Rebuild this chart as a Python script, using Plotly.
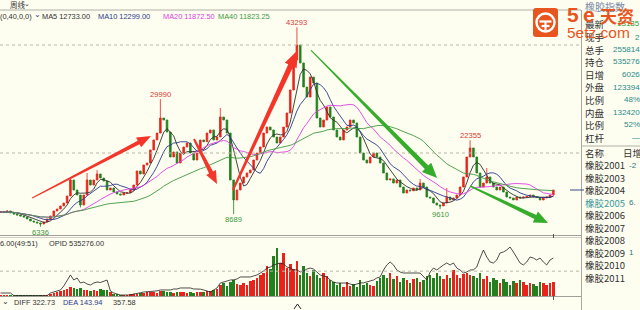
import math
import pandas as pd
import plotly.graph_objects as go

W, H = 640, 310

# ---------------- data ----------------
closes = [
    9070, 9070, 9260, 8890, 8700, 8520, 8330, 8150, 7780, 7410,
    7220, 7040, 6850, 7220, 7780, 8330, 9260, 9630, 10190, 10740,
    12040, 15000, 13150, 12220, 10370, 12220, 15000, 14070, 15000, 16110,
    15370, 14810, 13150, 13520, 12780, 12410, 12220, 12590, 12650, 13150,
    14070, 16670, 16110, 17780, 18150, 20560, 22410, 23700, 26480, 26110,
    23890, 19260, 20190, 18150, 20000, 21110, 21850, 20000, 18700, 20000,
    22410, 22100, 23700, 24260, 22410, 22960, 26670, 26110, 23700, 15000,
    11300, 13150, 14440, 15560, 16300, 16850, 18700, 20000, 21110, 23700,
    24810, 24260, 22960, 21850, 22960, 24810, 27410, 31670, 37220, 40000,
    36670, 32220, 30370, 34070, 32960, 26480, 24810, 26110, 28520, 26670,
    24260, 22960, 22410, 24260, 24810, 26110, 25560, 22960, 20000, 18700,
    18150, 19260, 20000, 19260, 18150, 16300, 15000, 15200, 14440, 15000,
    13700, 12590, 13150, 13000, 13520, 13150, 14440, 13700, 11850, 11670,
    10740, 10370, 10190, 10740, 11850, 11300, 11670, 12220, 13700, 15560,
    19260, 20930, 19260, 16300, 13700, 14440, 15560, 14440, 13700, 13150,
    13700, 12780, 11850, 11670, 11300, 11850, 11670, 11850, 11950, 12220,
    11850, 11750, 11300, 11670, 11850, 12220, 13150]

wick_high_idx = [21, 26, 29, 48, 66, 89, 126, 134, 141, 146]
wick_high_val = [15370, 16300, 16850, 29990, 28330, 43293, 15190, 13520, 22355, 17220]
wick_low_idx = [12, 24, 70, 132]
wick_low_val = [6336, 9900, 8689, 9610]

volume_k = [
    8, 10, 6, 9, 7, 8, 6, 10, 7, 9, 8, 6, 11, 9, 12,
    30, 45, 60, 70, 85, 100, 125, 115, 95, 110, 80, 90, 75, 85, 70, 95, 80, 90, 60,
    20, 15, 12, 10, 14, 18, 22,
    35, 40, 45, 50, 60, 55, 48, 70, 65, 52, 58, 45, 50, 60, 55, 48, 52, 45, 50, 62, 58, 70, 65, 85, 100,
    160, 180, 140, 200, 230, 170, 150, 190, 160, 210, 220, 250, 300, 330, 420, 380, 560, 680, 470, 600, 400,
    450, 380, 500, 300, 420, 330, 280, 360, 300, 260, 320, 280, 230, 200,
    150, 180, 120, 200, 140, 170, 130, 220, 160, 190, 150, 140, 210, 250,
    300, 260, 320, 240, 280, 200, 260, 220, 180, 240, 260, 200, 230, 280,
    300, 260, 320, 280, 240, 300, 260, 370, 290, 250, 310, 330, 300, 280, 260,
    320, 240, 280, 200, 260, 220, 180, 240, 200, 160, 210, 180, 230, 200, 150, 190, 170, 140, 200, 180, 150, 190, 200]

oi_k = [
    42, 42, 42, 42, 7, 7, 7, 7, 7, 7, 7, 7, 7, 7, 7,
    42, 56, 70, 85, 141, 225, 296, 225, 254, 183, 197, 169, 155, 183, 197,
    190, 211, 225, 70, 42, 28, 14, 14, 14, 14, 28, 42, 45, 56, 58, 60, 70, 72,
    85, 84, 86, 85, 99, 98, 113, 112, 114, 113, 99, 98, 97, 85, 70, 56, 85, 113,
    183, 197, 211, 225, 228, 239, 268, 267, 269, 268, 282, 296, 324, 352,
    394, 408, 437, 451, 465, 451, 408, 394, 366, 368, 338, 352, 380, 394, 380,
    338, 296, 282, 268, 225, 197, 183, 182, 184, 183, 169, 155, 169, 183, 185,
    197, 211, 225, 254, 268, 366, 437, 479, 437, 366, 338, 324, 326, 322, 325,
    324, 323, 268, 225, 338, 394, 366, 408, 437, 465, 437, 465, 394, 366, 324,
    338, 366, 368, 408, 535, 648, 549, 479, 465, 507, 606, 620, 648, 690, 620,
    535, 465, 437, 479, 549, 535, 507, 535, 479, 437, 507, 535.276]

peak_idx = [89, 48, 141]
peak_txt = ["43293", "29990", "22355"]
trough_idx = [12, 70, 132]
trough_txt = ["6336", "8689", "9610"]

# trend arrows: (index, price) of tail and tip
arrow_tails = [(9.5, 11670), (58.1, 22590), (69.8, 13150), (93.2, 39070), (141.0, 13890)]
arrow_tips = [(45.2, 23150), (65.0, 14260), (89.3, 39070), (131.1, 15370), (164.4, 7040)]
arrow_colors = ["#f4362a", "#f4362a", "#f4362a", "#35ad2a", "#35ad2a"]

ma_periods = [5, 10, 20, 40]
ma_colors = ["#303030", "#2b3a8c", "#e03ee0", "#3f9a3f"]

n = len(closes)
assert len(volume_k) == n and len(oi_k) == n, (len(volume_k), len(oi_k), n)
idx = list(range(n))
opens = [closes[0]] + closes[:-1]
highs = [max(o, c) for o, c in zip(opens, closes)]
lows = [min(o, c) for o, c in zip(opens, closes)]
for i, v in zip(wick_high_idx, wick_high_val):
    highs[i] = max(highs[i], v)
for i, v in zip(wick_low_idx, wick_low_val):
    lows[i] = min(lows[i], v)

UP = "#e8231c"
DN = "#23801e"
BG = "#fdfdf0"

# ---------------- geometry ----------------
MAIN_W = 580
MAIN_TOP, MAIN_BOT = 10, 235
VOL_TOP, VOL_BOT = 237, 296
X0, X1 = -0.15, 174.0
Y0, Y1 = 4814, 46482
V1 = 831


def px(x):
    return x / W


def py(y):
    return 1 - y / H


def to_px(i, p):
    x = (i - X0) / (X1 - X0) * MAIN_W
    y = MAIN_TOP + (Y1 - p) / (Y1 - Y0) * (MAIN_BOT - MAIN_TOP)
    return x, y


def wedge_path(tail, tip, w_tail, w_base, head_len, head_w):
    (x0, y0), (x1, y1) = to_px(*tail), to_px(*tip)
    L = math.hypot(x1 - x0, y1 - y0)
    dx, dy = (x1 - x0) / L, (y1 - y0) / L
    nx, ny = -dy, dx
    bx, by = x1 - dx * head_len, y1 - dy * head_len
    pts = [(x0 + nx * w_tail / 2, y0 + ny * w_tail / 2),
           (bx + nx * w_base / 2, by + ny * w_base / 2),
           (bx + nx * head_w / 2, by + ny * head_w / 2),
           (x1, y1),
           (bx - nx * head_w / 2, by - ny * head_w / 2),
           (bx - nx * w_base / 2, by - ny * w_base / 2),
           (x0 - nx * w_tail / 2, y0 - ny * w_tail / 2)]
    return "M " + " L ".join(f"{px(x):.5f},{py(y):.5f}" for x, y in pts) + " Z"


fig = go.Figure()

# candles
fig.add_trace(go.Candlestick(
    x=idx, open=opens, high=highs, low=lows, close=closes,
    increasing=dict(line=dict(color=UP, width=0.8), fillcolor=UP),
    decreasing=dict(line=dict(color=DN, width=0.8), fillcolor=DN),
    whiskerwidth=0, showlegend=False, hoverinfo="skip", xaxis="x", yaxis="y"))

# moving averages
s = pd.Series(closes, dtype=float)
for per, col in zip(ma_periods, ma_colors):
    fig.add_trace(go.Scatter(
        x=idx, y=s.rolling(per, min_periods=1).mean(), mode="lines",
        line=dict(color=col, width=0.9), showlegend=False, hoverinfo="skip",
        xaxis="x", yaxis="y"))

# volume + open interest
vcols = [UP if c >= o else DN for o, c in zip(opens, closes)]
fig.add_trace(go.Bar(x=idx, y=volume_k, marker=dict(color=vcols, line=dict(width=0)),
                     width=0.75, showlegend=False, hoverinfo="skip", xaxis="x2", yaxis="y2"))
fig.add_trace(go.Scatter(x=idx, y=oi_k, mode="lines", line=dict(color="#222222", width=0.8),
                         showlegend=False, hoverinfo="skip", xaxis="x2", yaxis="y2"))

shapes = []
annotations = []

# grid lines (dotted)
for p in (40000, 20000):
    shapes.append(dict(type="line", xref="paper", yref="y", x0=0, x1=px(MAIN_W), y0=p, y1=p,
                       line=dict(color="#b8b8a8", width=1, dash="dot")))
shapes.append(dict(type="line", xref="paper", yref="y2", x0=0, x1=px(MAIN_W), y0=350, y1=350,
                   line=dict(color="#b8b8a8", width=1, dash="dot")))


def hline(y, x0, x1, color, w=1):
    shapes.append(dict(type="line", xref="paper", yref="paper", x0=px(x0), x1=px(x1),
                       y0=py(y), y1=py(y), line=dict(color=color, width=w)))


def vline(x, y0, y1, color, w=1):
    shapes.append(dict(type="line", xref="paper", yref="paper", x0=px(x), x1=px(x),
                       y0=py(y0), y1=py(y1), line=dict(color=color, width=w)))


hline(10, 0, 581, "#b0b0a8")
hline(235.5, 0, 581, "#a0a098")
hline(237.5, 0, 581, "#d0d0c8")
hline(296.5, 0, 581, "#a0a098")
vline(581.5, 10, 310, "#a8a8a0")
hline(146, 581, 640, "#b0b0a8")

# current price marker
shapes.append(dict(type="line", xref="paper", yref="y", x0=px(570), x1=px(584),
                   y0=closes[-1], y1=closes[-1], line=dict(color="#3a4a80", width=1)))
vline(553.5, 234, 238, "#555555")
vline(553.5, 296, 300, "#555555")
shapes.append(dict(type="path", xref="paper", yref="paper",
                   path=f"M {px(294):.5f},{py(309):.5f} L {px(297.5):.5f},{py(304):.5f} L {px(301):.5f},{py(309):.5f}",
                   line=dict(color="#222222", width=1)))

# trend arrows
arrow_dims = [(1.0, 4.0, 14, 11), (2.0, 4.5, 13, 11), (2.0, 5.5, 17, 13), (1.0, 5.0, 15, 13), (1.5, 4.5, 14, 12)]
for tail, tip, col, dims in zip(arrow_tails, arrow_tips, arrow_colors, arrow_dims):
    shapes.append(dict(type="path", xref="paper", yref="paper", path=wedge_path(tail, tip, *dims),
                       fillcolor=col, line=dict(width=0), layer="above"))

# logo
LOGO = "#e8551f"
shapes.append(dict(type="path", xref="paper", yref="paper",
                   path=(f"M {px(536):.5f},{py(8):.5f} L {px(555):.5f},{py(8):.5f} "
                         f"Q {px(558):.5f},{py(8):.5f} {px(558):.5f},{py(11):.5f} L {px(558):.5f},{py(34):.5f} "
                         f"Q {px(558):.5f},{py(37):.5f} {px(555):.5f},{py(37):.5f} L {px(536):.5f},{py(37):.5f} "
                         f"Q {px(533):.5f},{py(37):.5f} {px(533):.5f},{py(34):.5f} L {px(533):.5f},{py(11):.5f} "
                         f"Q {px(533):.5f},{py(8):.5f} {px(536):.5f},{py(8):.5f} Z"),
                   fillcolor=LOGO, line=dict(width=0), layer="above"))
shapes.append(dict(type="circle", xref="paper", yref="paper", x0=px(536.5), x1=px(554.5),
                   y0=py(31.5), y1=py(13.5), line=dict(color="white", width=2.4), layer="above"))
for (ax0, ay0, ax1, ay1) in [(539.5, 21.5, 551.5, 21.5), (545.5, 21.5, 545.5, 30.5), (541.5, 26.0, 549.5, 26.0)]:
    shapes.append(dict(type="line", xref="paper", yref="paper", x0=px(ax0), x1=px(ax1),
                       y0=py(ay0), y1=py(ay1), line=dict(color="white", width=2.2), layer="above"))


def ann(text, x, y, color="#333333", size=7.4, xanchor="left", family="Liberation Sans, Arial, sans-serif", bold=False):
    if bold:
        text = f"<b>{text}</b>"
    annotations.append(dict(text=text, x=px(x), y=py(y), xref="paper", yref="paper",
                            xanchor=xanchor, yanchor="middle", showarrow=False,
                            font=dict(color=color, size=size, family=family), borderpad=0))


CJK = "Noto Sans CJK SC, sans-serif"

# top toolbar and legend row
ann("周线", 9, 4.5, "#333333", 7.5, family=CJK)
ann("⌄", 23, 4, "#333333", 7, family="DejaVu Sans")
ann("(0,40,0,0)", -1, 16.5, "#333333")
ann("⌄", 33, 15, "#2b3a8c", 8, family="DejaVu Sans")
ann("MA5 12733.00", 41, 16.5, ma_colors[0])
ann("MA10 12299.00", 97, 16.5, ma_colors[1])
ann("MA20 11872.50", 162, 16.5, ma_colors[2])
ann("MA40 11823.25", 217, 16.5, ma_colors[3])

# peak / trough labels
for i, t in zip(peak_idx, peak_txt):
    annotations.append(dict(text=t, x=i, y=highs[i], xref="x", yref="y", yanchor="bottom",
                            yshift=-2, showarrow=False, font=dict(color="#e03a30", size=7.6,
                            family="Liberation Sans, Arial, sans-serif")))
for i, t in zip(trough_idx, trough_txt):
    annotations.append(dict(text=t, x=i, y=lows[i], xref="x", yref="y", yanchor="top",
                            yshift=1, showarrow=False, font=dict(color="#3a9a3a", size=7.6,
                            family="Liberation Sans, Arial, sans-serif")))

# volume panel header and bottom row
ann("6.00(49:51)", -1, 243.5)
ann("OPID 535276.00", 48, 243.5)
ann("⌄", 1, 301, "#333333", 8, family="DejaVu Sans")
ann("DIFF 322.73", 13, 302)
ann("DEA 143.94", 62, 302, "#2b3a8c")
ann("357.58", 112, 302)

# right info panel
ann("橡胶指数", 584, 6, "#7a8aa8", 10, family=CJK)
right_labels = ["最新", "现手", "总手", "持仓", "日增", "外盘", "比例", "内盘", "比例", "杠杆"]
right_values = ["13135", "2", "255814", "535276", "6026", "123394", "48%", "132420", "52%", "—"]
right_rows = [24, 37, 49.5, 62, 74.5, 87, 100, 112.5, 125, 137.5]
for lab, val, y in zip(right_labels, right_values, right_rows):
    ann(lab, 584, y, "#333333", 9.5, family=CJK)
    ann(val, 641, y, "#2a8a8a" if lab != "最新" else "#2f9a3a", 8, xanchor="right")

ann("名称", 584, 153, "#333333", 9.5, family=CJK)
ann("日增", 622, 153, "#333333", 9.5, family=CJK)
contracts = ["橡胶2001", "橡胶2003", "橡胶2004", "橡胶2005", "橡胶2006",
             "橡胶2007", "橡胶2008", "橡胶2009", "橡胶2010", "橡胶2011"]
contract_chg = ["-2", "", "", "6.", "", "", "", "1", "", ""]
for k, (name, chg) in enumerate(zip(contracts, contract_chg)):
    y = 165.5 + k * 12.45
    ann(name, 584, y, "#3a9a9a" if name == "橡胶2005" else "#333333", 9.5, family=CJK)
    if chg:
        ann(chg, 628, y, "#2a7a7a", 8)

# logo text (on top)
ann("5", 566, 15, LOGO, 21, family="Liberation Sans, Arial, sans-serif", bold=True)
ann("e", 582, 15, LOGO, 21, family="Liberation Sans, Arial, sans-serif", bold=True)
ann("天资", 599, 15.5, LOGO, 17, family=CJK, bold=True)
ann("5etz.com", 566, 32, LOGO, 15.5, family="Liberation Sans, Arial, sans-serif")

fig.update_layout(
    width=W, height=H, margin=dict(l=0, r=0, t=0, b=0),
    paper_bgcolor=BG, plot_bgcolor=BG, showlegend=False, bargap=0,
    xaxis=dict(domain=[0, px(MAIN_W)], range=[X0, X1], visible=False, anchor="y",
               rangeslider=dict(visible=False), fixedrange=True),
    yaxis=dict(domain=[py(MAIN_BOT), py(MAIN_TOP)], range=[Y0, Y1], visible=False, fixedrange=True),
    xaxis2=dict(domain=[0, px(MAIN_W)], range=[X0, X1], visible=False, anchor="y2",
                matches="x", fixedrange=True),
    yaxis2=dict(domain=[py(VOL_BOT), py(VOL_TOP)], range=[0, V1], visible=False, fixedrange=True),
    shapes=shapes, annotations=annotations,
)

fig.write_html("out.html", config={"displayModeBar": False})
